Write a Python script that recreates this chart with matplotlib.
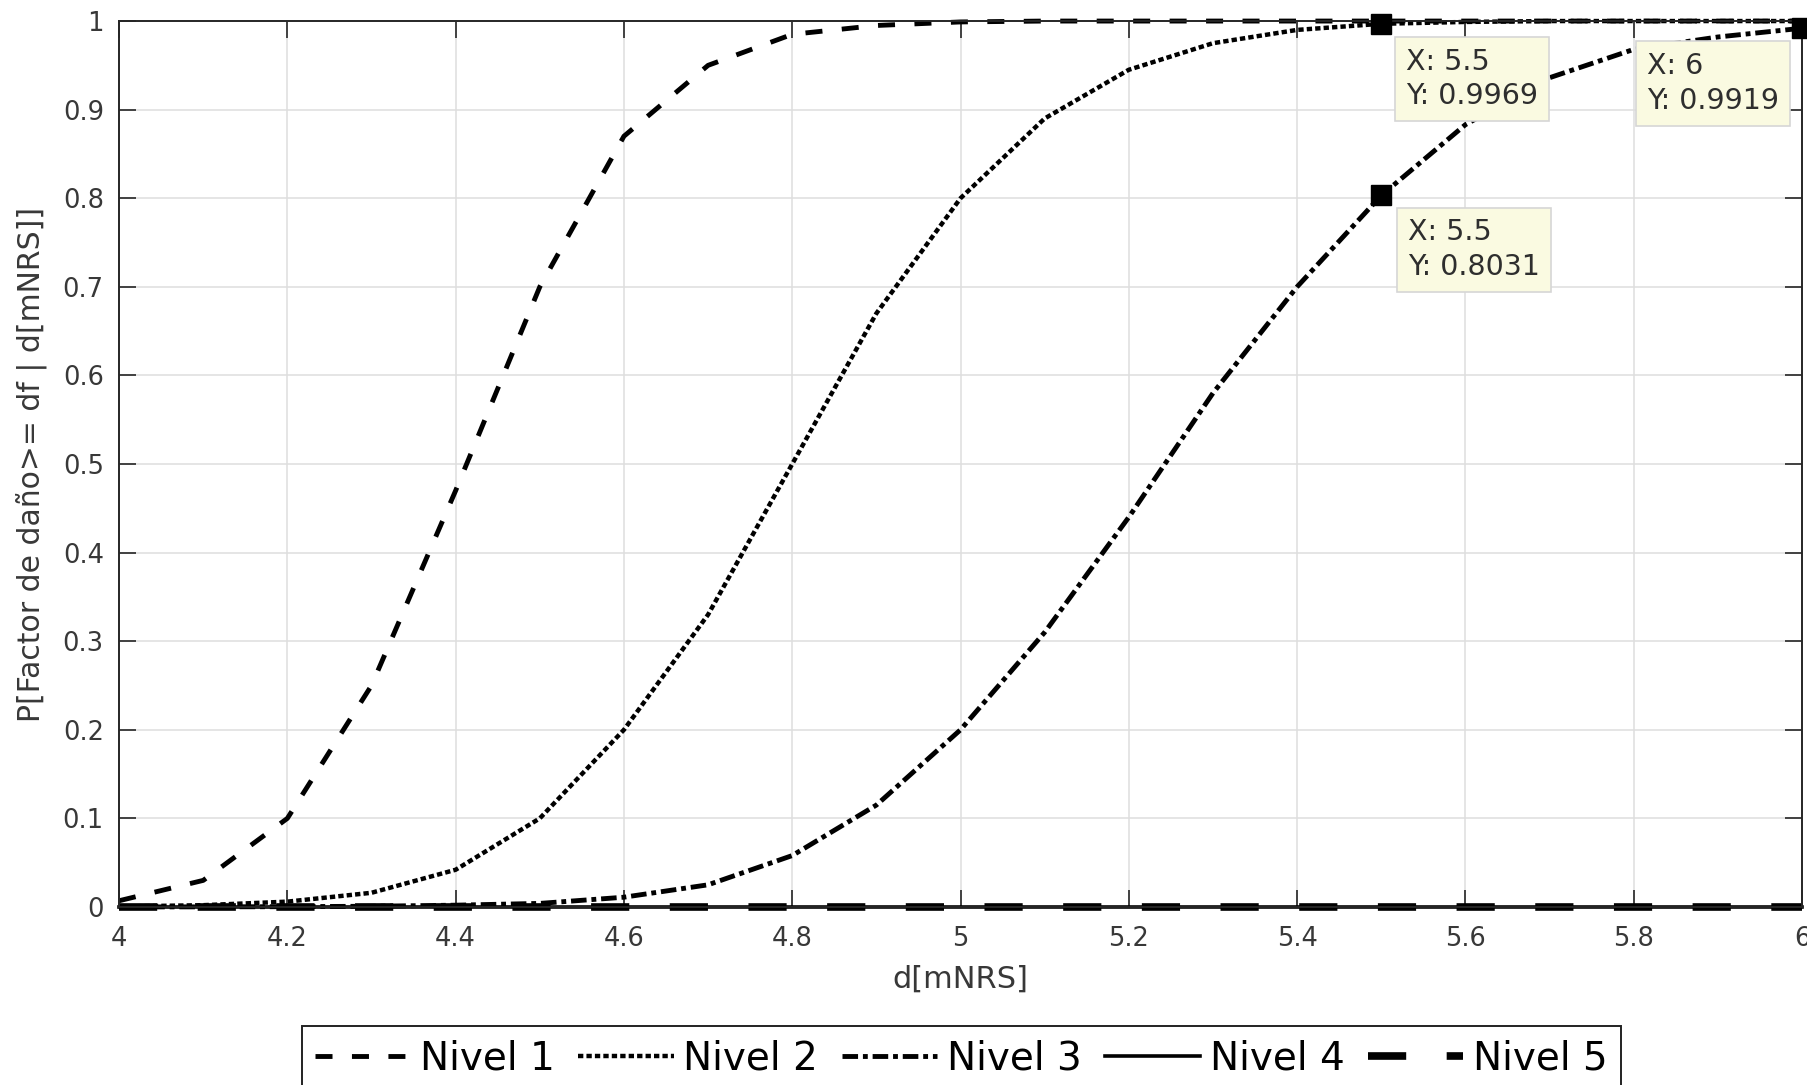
import numpy as np
import matplotlib
matplotlib.use("Agg")
import matplotlib.pyplot as plt

# --- data --- #
d_mnrs = [4.0, 4.1, 4.2, 4.3, 4.4, 4.5, 4.6, 4.7, 4.8, 4.9, 5.0,
          5.1, 5.2, 5.3, 5.4, 5.5, 5.6, 5.7, 5.8, 5.9, 6.0]

nivel1 = [0.007, 0.03, 0.10, 0.25, 0.47, 0.70, 0.87, 0.95, 0.985, 0.995, 0.999,
          1.0, 1.0, 1.0, 1.0, 1.0, 1.0, 1.0, 1.0, 1.0, 1.0]
nivel2 = [0.0005, 0.002, 0.006, 0.016, 0.042, 0.10, 0.20, 0.33, 0.50, 0.67, 0.80,
          0.89, 0.945, 0.975, 0.99, 0.9969, 0.999, 1.0, 1.0, 1.0, 1.0]
nivel3 = [0.0, 0.0001, 0.0003, 0.0008, 0.002, 0.004, 0.011, 0.025, 0.058, 0.115, 0.20,
          0.31, 0.44, 0.58, 0.70, 0.8031, 0.883, 0.936, 0.968, 0.982, 0.9919]
nivel4 = [0.0] * len(d_mnrs)
nivel5 = [0.0] * len(d_mnrs)

labels = ["Nivel 1", "Nivel 2", "Nivel 3", "Nivel 4", "Nivel 5"]

# data tips (x, y)
tips_x = [5.5, 6.0, 5.5]
tips_y = [0.9969, 0.9919, 0.8031]
tips_off = [(25, -24), (-155, -24), (27, -23)]  # pixels, text corner from the point

xticks = [4.0, 4.2, 4.4, 4.6, 4.8, 5.0, 5.2, 5.4, 5.6, 5.8, 6.0]
xtick_labels = ["4", "4.2", "4.4", "4.6", "4.8", "5", "5.2", "5.4", "5.6", "5.8", "6"]
yticks = [0, 0.1, 0.2, 0.3, 0.4, 0.5, 0.6, 0.7, 0.8, 0.9, 1.0]
ytick_labels = ["0", "0.1", "0.2", "0.3", "0.4", "0.5", "0.6", "0.7", "0.8", "0.9", "1"]

plt.rcParams['font.family'] = ['DejaVu Sans']
txt_col = '#383838'

fig = plt.figure(figsize=(18.07, 10.85), dpi=100)
ax = fig.add_axes([0.0659, 0.1641, 0.9313, 0.8165])

# --- curves --- #
l1, = ax.plot(d_mnrs, nivel1, color='k', lw=3.5, dashes=(3.5, 4.0), clip_on=False)
l2, = ax.plot(d_mnrs, nivel2, color='k', lw=3.2, dashes=(1.2, 0.7), clip_on=False)
l3, = ax.plot(d_mnrs, nivel3, color='k', lw=3.5, dashes=(3.2, 1.0, 1.0, 1.0), clip_on=False)
l4, = ax.plot(d_mnrs, nivel4, color='k', lw=2.6, ls='-', clip_on=False)
l5, = ax.plot(d_mnrs, nivel5, color='k', lw=5.5, dashes=(5.0, 5.3), clip_on=False)

# --- data tips --- #
ax.plot(tips_x, tips_y, ls='none', marker='s', ms=14, color='k', clip_on=False, zorder=5)
for tx, ty, off in zip(tips_x, tips_y, tips_off):
    ax.annotate(f"X: {tx:g}\nY: {ty:.4f}", xy=(tx, ty), xytext=off,
                textcoords='offset pixels', ha='left', va='top',
                fontsize=20.5, color='#2e2e2e', linespacing=1.3,
                bbox=dict(boxstyle='square,pad=0.38', fc='#fafae1', ec='#d6d6d6', lw=1.2),
                zorder=6, annotation_clip=False)

# --- axes --- #
ax.set_xlim(4, 6)
ax.set_ylim(0, 1)
ax.set_xticks(xticks)
ax.set_xticklabels(xtick_labels)
ax.set_yticks(yticks)
ax.set_yticklabels(ytick_labels)
ax.tick_params(direction='in', length=12, width=1.2, top=True, right=True,
               labelsize=18.5, labelcolor=txt_col, color='#262626')
ax.tick_params(axis='x', pad=14)
ax.tick_params(axis='y', pad=11)
ax.grid(True, color='#dedede', lw=1.1)
ax.set_axisbelow(True)
for s in ax.spines.values():
    s.set_color('#262626')
    s.set_linewidth(1.4)

ax.set_xlabel("d[mNRS]", fontsize=22, color=txt_col, labelpad=9)
ax.set_ylabel("P[Factor de daño>= df | d[mNRS]]", fontsize=21.5, color=txt_col, labelpad=11)

# --- legend --- #
leg = fig.legend([l1, l2, l3, l4, l5], labels, loc='upper center',
                 bbox_to_anchor=(0.532, 1 - 1026 / 1085), ncol=5, fontsize=28,
                 frameon=True, fancybox=False, edgecolor='#222222', framealpha=1,
                 borderaxespad=0, borderpad=0.35, handlelength=2.45,
                 handletextpad=0.25, columnspacing=0.6)
leg.get_frame().set_linewidth(1.4)

fig.savefig("out.png", dpi=100)
